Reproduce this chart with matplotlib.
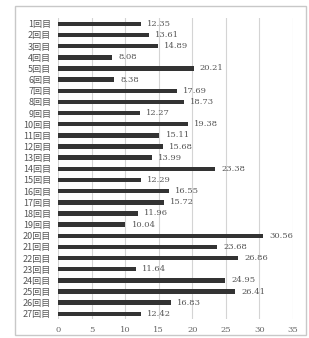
import matplotlib.pyplot as plt
from matplotlib.patches import Rectangle

plt.rcParams['font.family'] = ['Noto Sans CJK JP', 'DejaVu Sans']

# Data
labels = [f"{i}回目" for i in range(1, 28)]
values = [12.35, 13.61, 14.89, 8.08, 20.21, 8.38, 17.69, 18.73, 12.27,
          19.38, 15.11, 15.68, 13.99, 23.38, 12.29, 16.55, 15.72, 11.96,
          10.04, 30.56, 23.68, 26.86, 11.64, 24.95, 26.41, 16.83, 12.42]
x_ticks = [0, 5, 10, 15, 20, 25, 30, 35]


def main():
    fig = plt.figure(figsize=(3.09, 3.38), dpi=100)
    ax = fig.add_axes([0.188, 0.055, 0.760, 0.891])

    # outer frame around the chart
    fig.patches.append(Rectangle((0.048, 0.008), 0.943, 0.975,
                                 transform=fig.transFigure, fill=False,
                                 edgecolor='#c8c8c8', linewidth=1.0))

    y = list(range(len(values)))
    ax.barh(y, values, height=0.4, color='#333333', zorder=3)

    for yi, v in zip(y, values):
        ax.text(v + 0.9, yi, f"{v:.2f}", va='center', ha='left',
                fontsize=6, color='#555555', family='DejaVu Serif')

    ax.set_yticks(y)
    ax.set_yticklabels(labels, fontsize=6.5, color='#555555')
    ax.set_ylim(len(values) - 0.5, -0.5)

    ax.set_xlim(0, 35)
    ax.set_xticks(x_ticks)
    ax.set_xticklabels([str(t) for t in x_ticks], fontsize=6,
                       color='#666666', family='DejaVu Serif')
    ax.tick_params(length=0, pad=5)
    ax.xaxis.grid(True, color='#d4d4d4', linewidth=0.8, zorder=0)

    for s in ax.spines.values():
        s.set_visible(False)

    fig.savefig("out.png", dpi=100)


if __name__ == "__main__":
    main()
